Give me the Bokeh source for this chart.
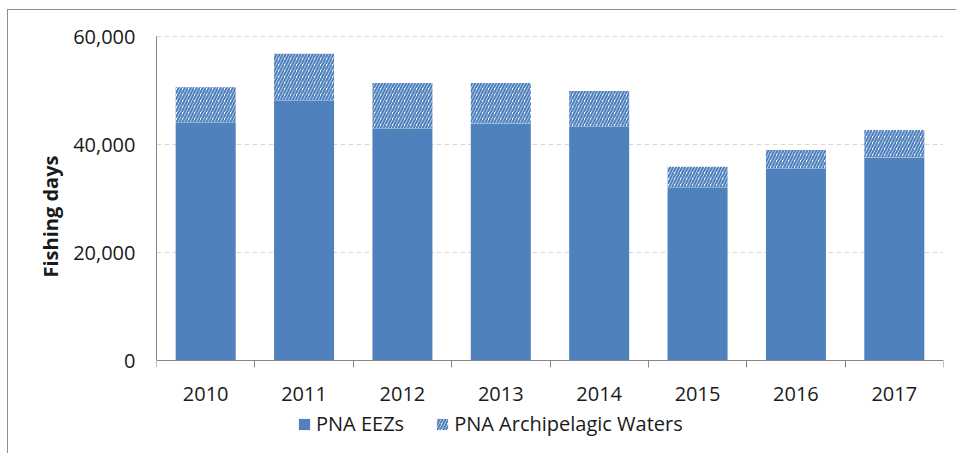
from bokeh.plotting import figure
from bokeh.models import (ColumnDataSource, FixedTicker, NumeralTickFormatter, Range1d,
                          Legend, LegendItem, Title)
from bokeh.embed import file_html
from bokeh.resources import INLINE

years = ["2010", "2011", "2012", "2013", "2014", "2015", "2016", "2017"]
pna_eezs = [44100, 48200, 42900, 43900, 43300, 32100, 35500, 37600]
pna_archipelagic = [6500, 8600, 8500, 7500, 6600, 3800, 3500, 5100]
y_ticks = [0, 20000, 40000, 60000]

BLUE = "#4F81BD"
FONT = "Open Sans"
TXT = "#1a1a1a"
GREY = "#868686"

# layout (canvas pixels)
W, H = 949, 444
FRAME_LEFT, FRAME_RIGHT = 148, 935
FRAME_TOP, FRAME_BOTTOM = 16, 444
PX_YMAX, PX_ZERO = 26, 350           # where 60,000 and 0 sit
ppu = (PX_ZERO - PX_YMAX) / y_ticks[-1]
y_start = -(FRAME_BOTTOM - PX_ZERO) / ppu
y_end = y_ticks[-1] + (PX_YMAX - FRAME_TOP) / ppu

xs = [i + 0.5 for i in range(len(years))]
src = ColumnDataSource(dict(
    x=xs,
    eez=pna_eezs,
    top=[a + b for a, b in zip(pna_eezs, pna_archipelagic)],
))

p = figure(width=W, height=H, output_backend="svg", toolbar_location=None,
           x_range=Range1d(0, len(years)), y_range=Range1d(y_start, y_end),
           min_border_left=FRAME_LEFT, min_border_right=W - FRAME_RIGHT,
           min_border_top=FRAME_TOP, min_border_bottom=H - FRAME_BOTTOM,
           styles={"margin-left": "7px", "margin-top": "9px",
                   "border-top": "1px solid #8c8c8c", "border-left": "1px solid #8c8c8c"})
p.outline_line_color = None

r1 = p.vbar(x="x", top="eez", bottom=0, width=0.61, source=src,
            fill_color=BLUE, line_color=None)
r2 = p.vbar(x="x", top="top", bottom="eez", width=0.61, source=src,
            fill_color="white", line_color=None,
            hatch_pattern="/", hatch_color=BLUE, hatch_scale=6, hatch_weight=2.2)

# x axis, drawn at y = 0 inside the frame
xa = p.xaxis[0]
xa.fixed_location = 0
xa.ticker = FixedTicker(ticks=xs, minor_ticks=list(range(len(years) + 1)))
xa.major_label_overrides = {x: y for x, y in zip(xs, years)}
xa.major_tick_line_color = None
xa.major_tick_out = 0
xa.major_tick_in = 0
xa.minor_tick_in = 0
xa.minor_tick_out = 7
xa.minor_tick_line_color = GREY
xa.axis_line_color = GREY
xa.major_label_standoff = 19
xa.major_label_text_font = FONT
xa.major_label_text_font_size = "20px"
xa.major_label_text_color = TXT

# y axis
ya = p.yaxis[0]
ya.ticker = FixedTicker(ticks=y_ticks)
ya.bounds = (y_ticks[0], y_ticks[-1])
ya.formatter = NumeralTickFormatter(format="0,0")
ya.major_tick_out = 0
ya.major_tick_in = 0
ya.minor_tick_line_color = None
ya.axis_line_color = GREY
ya.major_label_standoff = 21
ya.major_label_text_font = FONT
ya.major_label_text_font_size = "20px"
ya.major_label_text_color = TXT

ytitle = Title(text="Fishing days", align="left", offset=177, standoff=13,
               text_font=FONT, text_font_size="20px", text_font_style="bold",
               text_color=TXT)
p.add_layout(ytitle, "left")

p.xgrid.grid_line_color = None
p.ygrid.grid_line_color = "#D9D9D9"
p.ygrid.grid_line_dash = "5 3"
p.ygrid.ticker = FixedTicker(ticks=y_ticks[1:])

legend = Legend(items=[LegendItem(label="PNA EEZs", renderers=[r1]),
                       LegendItem(label="PNA Archipelagic Waters", renderers=[r2])],
                orientation="horizontal", location=(141, 17),
                border_line_color=None, background_fill_alpha=0,
                label_text_font=FONT, label_text_font_size="20px", label_text_color=TXT,
                glyph_width=14, glyph_height=14, label_standoff=5, spacing=31,
                padding=0, margin=0)
p.add_layout(legend, "center")

open("out.html", "w").write(file_html(p, INLINE))
